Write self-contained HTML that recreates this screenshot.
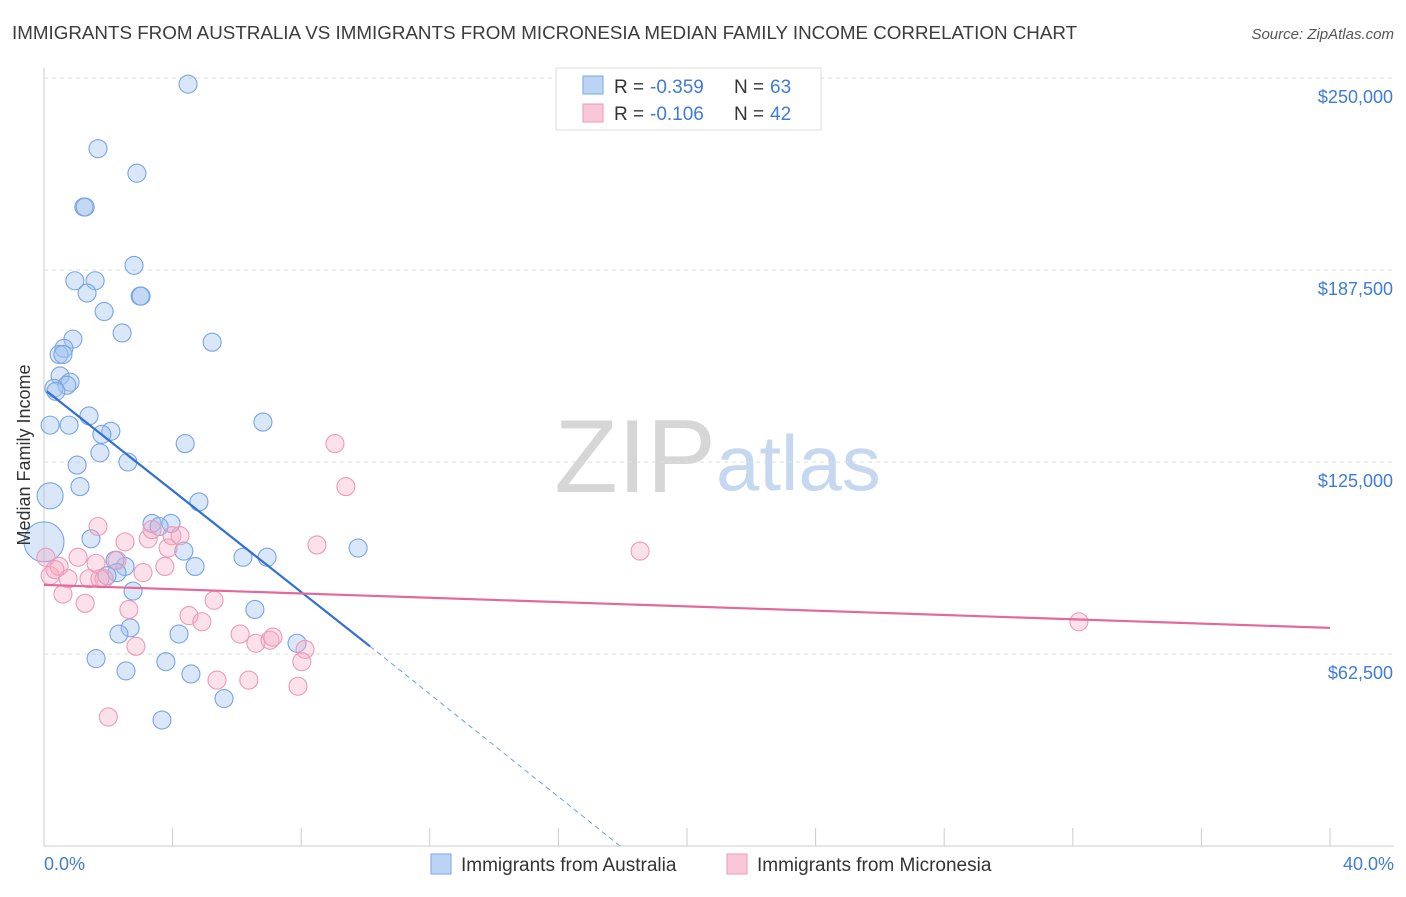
<!DOCTYPE html>
<html><head><meta charset="utf-8"><style>
body{margin:0;background:#fff;font-family:"Liberation Sans",sans-serif;}
svg text{font-family:"Liberation Sans",sans-serif;}
</style></head><body>
<svg id="c" width="1406" height="892">
<text x="12" y="39" font-size="18.8" fill="#3c3c3c">IMMIGRANTS FROM AUSTRALIA VS IMMIGRANTS FROM MICRONESIA MEDIAN FAMILY INCOME CORRELATION CHART</text>
<text x="1394" y="39" font-size="15" fill="#555" text-anchor="end" font-style="italic">Source: ZipAtlas.com</text>
<text x="716" y="492" font-size="104" fill="#d6d6d6" text-anchor="end" font-family="Liberation Serif">ZIP</text>
<text x="716" y="490" font-size="78" fill="#c6d8f0">atlas</text>
<g id="grid"></g><g id="pts"></g><g id="lines"></g>
<text x="30" y="455" font-size="18" fill="#333" text-anchor="middle" transform="rotate(-90 30 455)">Median Family Income</text>
<text x="44" y="870" font-size="18" fill="#3f7bd8">0.0%</text>
<text x="1394" y="870" font-size="18" fill="#3f7bd8" text-anchor="end">40.0%</text>
<g>
<rect x="556" y="68" width="265" height="62" fill="#fff" stroke="#ddd"/>
<rect x="583" y="76" width="20" height="18" fill="#bcd4f4" stroke="#7aa6e6"/>
<rect x="583" y="104" width="20" height="18" fill="#f9c8d8" stroke="#ec9ab8"/>
<text x="614" y="93" font-size="19" fill="#333">R =</text>
<text x="650" y="93" font-size="19" fill="#3f7bd8">-0.359</text>
<text x="734" y="93" font-size="19" fill="#333">N =</text>
<text x="770" y="93" font-size="19" fill="#3f7bd8">63</text>
<text x="614" y="120" font-size="19" fill="#333">R =</text>
<text x="650" y="120" font-size="19" fill="#3f7bd8">-0.106</text>
<text x="734" y="120" font-size="19" fill="#333">N =</text>
<text x="770" y="120" font-size="19" fill="#3f7bd8">42</text>
</g>
<g>
<rect x="431" y="854" width="20" height="20" fill="#bcd4f4" stroke="#7aa6e6"/>
<text x="461" y="871" font-size="19" fill="#333">Immigrants from Australia</text>
<rect x="727" y="854" width="20" height="20" fill="#f9c8d8" stroke="#ec9ab8"/>
<text x="757" y="871" font-size="19" fill="#333">Immigrants from Micronesia</text>
</g>
</svg>
<script>
const yTicks=[62500,125000,187500,250000];
const yTickLabels=["$62,500","$125,000","$187,500","$250,000"];
const xTicks=[0,4,8,12,16,20,24,28,32,36,40];
const ausX=[4.48,1.68,2.89,1.24,1.28,2.80,0.96,1.59,1.34,2.99,3.02,1.87,2.43,5.23,0.90,0.62,0.47,0.59,0.50,0.81,0.71,0.31,0.37,1.40,6.81,0.19,0.78,2.08,1.80,4.39,1.74,2.61,1.03,1.12,0.19,4.82,3.36,3.95,3.58,1.46,0.0,4.35,6.19,6.94,9.77,4.70,2.52,2.21,2.27,1.96,2.77,6.56,2.68,2.33,4.20,7.87,1.62,3.79,2.55,4.57,5.60,3.67];
const ausY=[248,227,219,208,208,189,184,184,180,179,179,174,167,164,165,162,160,160,153,151,150,149,148,140,138,137,137,135,134,131,128,125,124,117,114,112,105,105,104,100,99,96,94,94,97,91,91,93,89,88,83,77,71,69,69,66,61,60,57,56,48,41];
const ausR=[9,9,9,9,9,9,9,9,9,9,9,9,9,9,9,9,9,9,9,9,9,9,9,9,9,9,9,9,9,9,9,9,9,9,13,9,9,9,9,9,20,9,9,9,9,9,9,9,9,9,9,9,9,9,9,9,9,9,9,9,9,9];
const micX=[9.05,9.39,18.54,32.19,1.68,0.06,1.06,0.19,0.47,0.75,1.62,2.52,2.27,1.40,1.87,3.08,0.59,1.28,2.64,3.24,3.36,3.86,3.98,4.23,3.76,4.51,4.91,5.29,8.49,6.10,6.59,7.03,7.12,8.12,8.02,7.90,5.38,6.37,2.86,2.00,0.34,1.74];
const micY=[131,117,96,73,104,94,94,88,91,87,92,99,93,87,87,89,82,79,77,100,103,97,101,101,91,75,73,80,98,69,66,67,68,64,60,52,54,54,65,42,90,87];
const ausLine=[[0.09,148],[10.14,65],[17.92,0]];
const micLine=[[0,85],[40,71]];
const X=v=>44+v/40*1286, Y=v=>846-v*1000/62500*192;
const ns="http://www.w3.org/2000/svg";
function mk(t,a,p){const e=document.createElementNS(ns,t);for(const k in a)e.setAttribute(k,a[k]);document.getElementById(p).appendChild(e);return e;}
const g0=mk('line',{x1:44,y1:68,x2:44,y2:846,stroke:'#ccc'},'grid');


const g1=mk('line',{x1:44,y1:846,x2:1394,y2:846,stroke:'#ccc'},'grid');


xTicks.forEach(t=>{const e=mk('line',{x1:X(t),y1:828,x2:X(t),y2:846,stroke:'#ccc'},'grid');

});
yTicks.forEach((t,i)=>{const e=mk('line',{x1:44,y1:Y(t/1000),x2:1394,y2:Y(t/1000),stroke:'#ddd','stroke-dasharray':'4 4'},'grid');


const l=mk('text',{x:1393,y:Y(t/1000)+25,'font-size':18,fill:'#3f7bd8','text-anchor':'end'},'grid');l.textContent=yTickLabels[i];

});
ausX.forEach((x,i)=>{const c=mk('circle',{cx:X(x),cy:Y(ausY[i]),r:ausR[i],fill:'rgba(160,196,240,0.4)',stroke:'#78a4e4','stroke-width':1.1},'pts');

});
micX.forEach((x,i)=>{const c=mk('circle',{cx:X(x),cy:Y(micY[i]),r:9,fill:'rgba(245,170,195,0.35)',stroke:'#eb9ab8','stroke-width':1.1},'pts');

});
const l1=mk('line',{x1:X(ausLine[0][0]),y1:Y(ausLine[0][1]),x2:X(ausLine[1][0]),y2:Y(ausLine[1][1]),stroke:'#2f6fd6','stroke-width':2.2},'lines');


const l2=mk('line',{x1:X(ausLine[1][0]),y1:Y(ausLine[1][1]),x2:X(ausLine[2][0]),y2:Y(ausLine[2][1]),stroke:'#6f9fe2','stroke-width':1,'stroke-dasharray':'5 4'},'lines');


const l3=mk('line',{x1:X(micLine[0][0]),y1:Y(micLine[0][1]),x2:X(micLine[1][0]),y2:Y(micLine[1][1]),stroke:'#e5689a','stroke-width':2.2},'lines');


</script>
</body></html>
